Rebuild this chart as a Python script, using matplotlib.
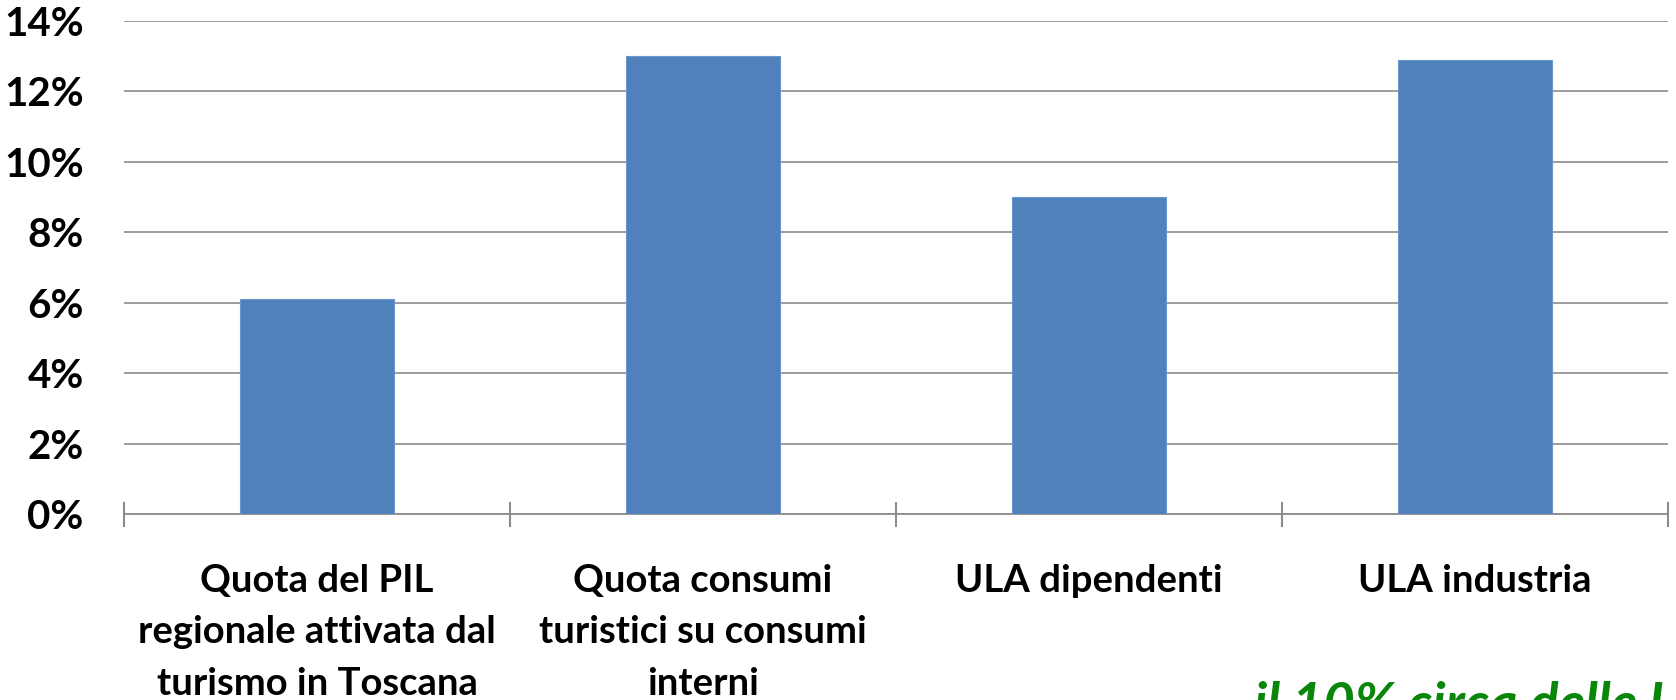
import numpy as np
import matplotlib
matplotlib.use("Agg")
import matplotlib.pyplot as plt
from matplotlib.ticker import FuncFormatter, FixedLocator

categories = ["Quota del PIL\nregionale attivata dal\nturismo in Toscana",
              "Quota consumi\nturistici su consumi\ninterni",
              "ULA dipendenti",
              "ULA industria"]
values = [6.1, 13.0, 9.0, 12.9]
yticks = [0, 2, 4, 6, 8, 10, 12, 14]
note = "il 10% circa delle ULA"

plt.rcParams['font.family'] = ['Lato', 'DejaVu Sans']

fig = plt.figure(figsize=(16.76, 7.0), dpi=100)
ax = fig.add_axes([124 / 1676, (700 - 514) / 700, (1668 - 124) / 1676, 493 / 700])

x = np.arange(len(categories))
ax.bar(x, values, width=0.4, color="#4F81BD", edgecolor="#6a96cc", linewidth=0.8, zorder=3)

ax.set_xlim(-0.5, len(categories) - 0.5)
ax.set_ylim(0, 14)
ax.set_yticks(yticks)
ax.yaxis.set_major_formatter(FuncFormatter(lambda v, p: f"{v:.0f}%"))
ax.grid(axis="y", color="#8c8c8c", linewidth=1.2, zorder=0)
ax.set_axisbelow(True)

for s in ["left", "right", "top"]:
    ax.spines[s].set_visible(False)
ax.spines["bottom"].set_color("#8c8c8c")
ax.spines["bottom"].set_linewidth(1.3)

# boundary ticks (major), labels at category centres (minor)
ax.xaxis.set_major_locator(FixedLocator(np.arange(len(categories) + 1) - 0.5))
ax.set_xticklabels([""] * (len(categories) + 1))
ax.xaxis.set_minor_locator(FixedLocator(x))
ax.set_xticklabels(categories, minor=True)
ax.tick_params(axis="x", which="major", direction="inout", length=18, width=1.5, color="#8c8c8c")
ax.tick_params(axis="x", which="minor", length=0, pad=36, labelsize=27.5)
for lab in ax.get_xticklabels(minor=True):
    lab.set_fontweight("bold")
    lab.set_linespacing(1.62)
    lab.set_multialignment("center")

ax.tick_params(axis="y", length=0, pad=29, labelsize=29)
for lab in ax.get_yticklabels():
    lab.set_fontweight("bold")

fig.text(1254 / 1676, -21 / 700, note, color="#0a870a", fontsize=39,
         fontweight="bold", fontstyle="italic", va="baseline", ha="left")

fig.savefig("out.png", dpi=100)
